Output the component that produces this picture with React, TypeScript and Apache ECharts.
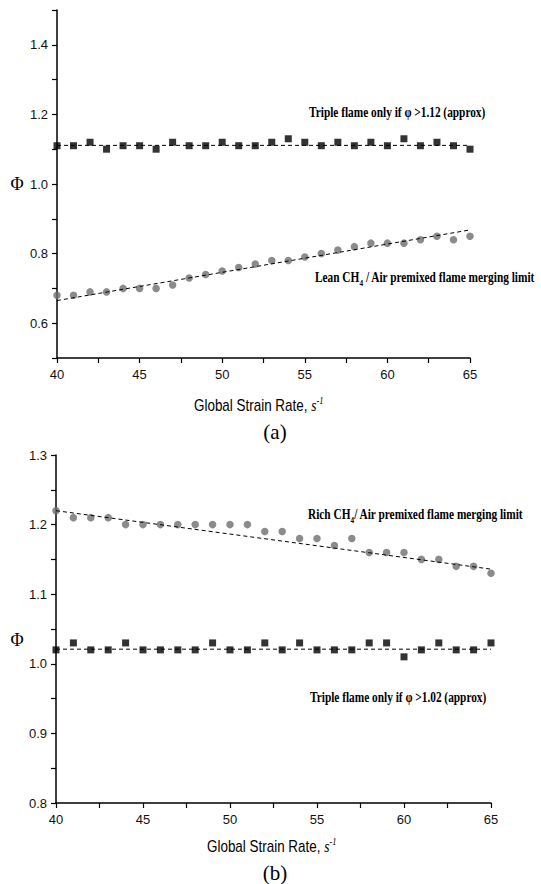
import React, { useEffect, useRef } from 'react';
import * as echarts from 'echarts';

// Global strain rate (s^-1)
const strainRate = [40, 41, 42, 43, 44, 45, 46, 47, 48, 49, 50, 51, 52, 53, 54, 55, 56, 57, 58, 59, 60, 61, 62, 63, 64, 65];

// (a) lean side
const topTripleFlame = [1.11, 1.11, 1.12, 1.10, 1.11, 1.11, 1.10, 1.12, 1.11, 1.11, 1.12, 1.11, 1.11, 1.12, 1.13, 1.12, 1.11, 1.12, 1.11, 1.12, 1.11, 1.13, 1.11, 1.12, 1.11, 1.10];
const topLeanLimit = [0.68, 0.68, 0.69, 0.69, 0.70, 0.70, 0.70, 0.71, 0.73, 0.74, 0.75, 0.76, 0.77, 0.78, 0.78, 0.79, 0.80, 0.81, 0.82, 0.83, 0.83, 0.83, 0.84, 0.85, 0.84, 0.85];

// (b) rich side
const botRichLimit = [1.22, 1.21, 1.21, 1.21, 1.20, 1.20, 1.20, 1.20, 1.20, 1.20, 1.20, 1.20, 1.19, 1.19, 1.18, 1.18, 1.17, 1.18, 1.16, 1.16, 1.16, 1.15, 1.15, 1.14, 1.14, 1.13];
const botTripleFlame = [1.02, 1.03, 1.02, 1.02, 1.03, 1.02, 1.02, 1.02, 1.02, 1.03, 1.02, 1.02, 1.03, 1.02, 1.03, 1.02, 1.02, 1.02, 1.03, 1.03, 1.01, 1.02, 1.03, 1.02, 1.02, 1.03];

// linear fits (end points)
const fitX = [40, 65];
const topTripleFit = [1.111, 1.111];
const topLeanFit = [0.665, 0.868];
const botRichFit = [1.22, 1.136];
const botTripleFit = [1.021, 1.021];

const topYLabels = ['0.6', '0.8', '1.0', '1.2', '1.4'];

const zip = (xs: number[], ys: number[]) => xs.map((x, i) => [x, ys[i]]);

const SANS = '"Liberation Sans", Arial, sans-serif';
const SERIF = '"Liberation Serif", "Times New Roman", serif';

function xAxis(gridIndex: number) {
  return {
    type: 'value',
    gridIndex,
    min: 40,
    max: 65,
    interval: 5,
    axisLine: { show: true, onZero: false, lineStyle: { color: '#000', width: 1.5 } },
    axisTick: { show: true, inside: false, length: 5, lineStyle: { color: '#000', width: 1.2 } },
    minorTick: { show: true, splitNumber: 2, length: 5, lineStyle: { color: '#000', width: 1.2 } },
    splitLine: { show: false },
    minorSplitLine: { show: false },
    axisLabel: { fontSize: 13, color: '#111', fontFamily: SANS, margin: 10 },
  };
}

function yAxis(gridIndex: number, min: number, max: number, minor: boolean, formatter: (v: number) => string) {
  return {
    type: 'value',
    gridIndex,
    min,
    max,
    interval: 0.1,
    axisLine: { show: true, onZero: false, lineStyle: { color: '#000', width: 1.5 } },
    axisTick: { show: true, inside: false, length: 5, lineStyle: { color: '#000', width: 1.2 } },
    minorTick: { show: minor, splitNumber: 2, length: 5, lineStyle: { color: '#000', width: 1.2 } },
    splitLine: { show: false },
    minorSplitLine: { show: false },
    axisLabel: { fontSize: 13, color: '#111', fontFamily: SANS, margin: 9, formatter },
  };
}

const annoRich = {
  b: { fontSize: 14, fontWeight: 'bold', fontFamily: SERIF, color: '#000', lineHeight: 20 },
  sub: { fontSize: 9, fontWeight: 'bold', fontFamily: SERIF, color: '#000', verticalAlign: 'bottom' },
};

function anno(x: number, y: number, text: string) {
  return {
    type: 'text',
    x,
    y,
    scaleX: 0.81,
    style: { text, rich: annoRich, textAlign: 'left', textVerticalAlign: 'middle', fill: '#000' },
  };
}

const xTitleRich = {
  t: { fontSize: 16, fontFamily: SANS, color: '#000', lineHeight: 20 },
  s: { fontSize: 16, fontFamily: SERIF, fontStyle: 'italic', color: '#000', lineHeight: 20 },
  sup: { fontSize: 10, fontFamily: SERIF, fontStyle: 'italic', color: '#000', verticalAlign: 'top' },
};

function xTitle(x: number, y: number) {
  return {
    type: 'text',
    x,
    y,
    scaleX: 0.84,
    style: { text: '{t|Global Strain Rate, }{s|s}{sup|-1}', rich: xTitleRich, textAlign: 'left', textVerticalAlign: 'middle' },
  };
}

function plain(x: number, y: number, text: string, size: number) {
  return {
    type: 'text',
    x,
    y,
    style: { text, font: `${size}px ${SERIF}`, fill: '#000', textAlign: 'center', textVerticalAlign: 'middle' },
  };
}

const dashed = { color: '#000', width: 1, type: [4, 3] };

const option = {
  animation: false,
  backgroundColor: '#fff',
  grid: [
    { left: 57, top: 10, width: 413, height: 348 },
    { left: 56, top: 455, width: 435, height: 348 },
  ],
  xAxis: [xAxis(0), xAxis(1)],
  yAxis: [
    yAxis(0, 0.5, 1.5, false, (v: number) => {
      const s = v.toFixed(1);
      return topYLabels.includes(s) ? s : '';
    }),
    yAxis(1, 0.8, 1.3, true, (v: number) => v.toFixed(1)),
  ],
  series: [
    { type: 'scatter', xAxisIndex: 0, yAxisIndex: 0, symbol: 'rect', symbolSize: 7, itemStyle: { color: '#000' }, data: zip(strainRate, topTripleFlame) },
    { type: 'scatter', xAxisIndex: 0, yAxisIndex: 0, symbol: 'circle', symbolSize: 7.5, itemStyle: { color: '#6e6e6e' }, data: zip(strainRate, topLeanLimit) },
    { type: 'line', xAxisIndex: 0, yAxisIndex: 0, symbol: 'none', z: 5, lineStyle: dashed, data: zip(fitX, topTripleFit) },
    { type: 'line', xAxisIndex: 0, yAxisIndex: 0, symbol: 'none', z: 5, lineStyle: dashed, data: zip(fitX, topLeanFit) },
    { type: 'scatter', xAxisIndex: 1, yAxisIndex: 1, symbol: 'circle', symbolSize: 7.5, itemStyle: { color: '#6e6e6e' }, data: zip(strainRate, botRichLimit) },
    { type: 'scatter', xAxisIndex: 1, yAxisIndex: 1, symbol: 'rect', symbolSize: 7, itemStyle: { color: '#000' }, data: zip(strainRate, botTripleFlame) },
    { type: 'line', xAxisIndex: 1, yAxisIndex: 1, symbol: 'none', z: 5, lineStyle: dashed, data: zip(fitX, botRichFit) },
    { type: 'line', xAxisIndex: 1, yAxisIndex: 1, symbol: 'none', z: 5, lineStyle: dashed, data: zip(fitX, botTripleFit) },
  ],
  graphic: [
    anno(309, 113, '{b|Triple flame only if φ >1.12 (approx)}'),
    anno(315, 278, '{b|Lean CH}{sub|4}{b| / Air premixed flame merging limit}'),
    anno(308, 515, '{b|Rich CH}{sub|4}{b|/ Air premixed flame merging limit}'),
    anno(310, 698, '{b|Triple flame only if φ >1.02 (approx)}'),
    xTitle(194, 406),
    xTitle(207, 847),
    plain(275, 432, '(a)', 21),
    plain(275, 873, '(b)', 21),
    plain(17, 184, 'Φ', 18),
    plain(17, 640, 'Φ', 18),
  ],
};

export default function App() {
  const ref = useRef<HTMLDivElement>(null);
  useEffect(() => {
    const chart = echarts.init(ref.current!, null, { renderer: 'svg' });
    chart.setOption(option as any);
    return () => chart.dispose();
  }, []);
  return <div ref={ref} style={{ position: 'absolute', left: 0, top: 0, width: 541, height: 884, background: '#fff' }} />;
}
